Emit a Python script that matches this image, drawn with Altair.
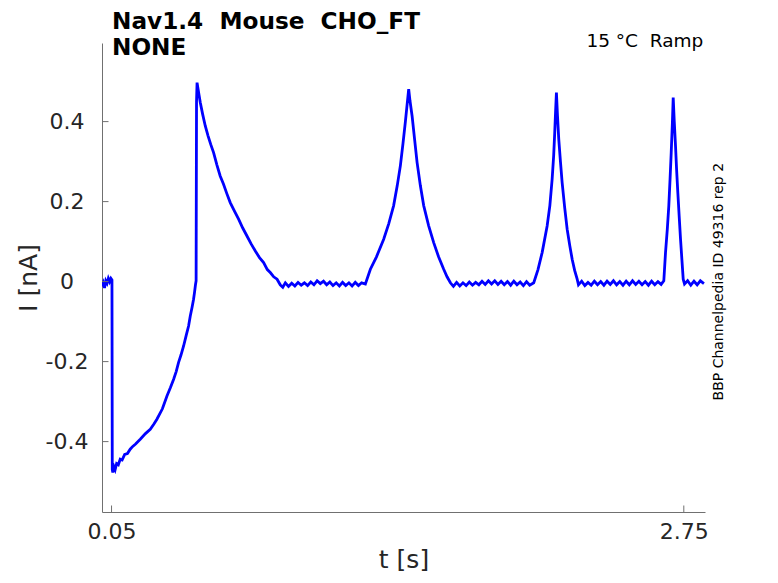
import altair as alt
import pandas as pd

# ---- data (t in s, I in nA) ----
rest0 = [(0.005, -0.012), (0.011, -0.003), (0.017, -0.016), (0.023, 0.002), (0.029, -0.004),
         (0.035, 0.008), (0.041, 0.0), (0.047, 0.008), (0.052, 0.004)]
step_recovery = [(0.0535, -0.47), (0.056, -0.477), (0.061, -0.462), (0.067, -0.470), (0.074, -0.455),
                 (0.082, -0.458), (0.091, -0.444), (0.100, -0.446), (0.112, -0.432), (0.125, -0.430),
                 (0.138, -0.419), (0.150, -0.412), (0.1635, -0.406), (0.1855, -0.394), (0.21, -0.380),
                 (0.2327, -0.369), (0.25, -0.356), (0.264, -0.344), (0.29, -0.318), (0.3115, -0.286),
                 (0.328, -0.265), (0.343, -0.244), (0.355, -0.225), (0.366, -0.2025), (0.378, -0.183),
                 (0.390, -0.161), (0.402, -0.135), (0.4135, -0.111), (0.4215, -0.086), (0.430, -0.064),
                 (0.437, -0.044), (0.442, -0.025), (0.446, -0.008), (0.449, 0.002)]
spike_decay = [(0.451, 0.45), (0.4535, 0.4975), (0.458, 0.482), (0.463, 0.466), (0.4687, 0.4475),
               (0.480, 0.418), (0.4923, 0.389), (0.505, 0.365), (0.518, 0.343), (0.5315, 0.3225),
               (0.547, 0.292), (0.5626, 0.264), (0.578, 0.244), (0.594, 0.220), (0.610, 0.1975),
               (0.630, 0.176), (0.6495, 0.156), (0.669, 0.134), (0.689, 0.114), (0.708, 0.095),
               (0.7284, 0.0765), (0.748, 0.060), (0.7675, 0.0475), (0.785, 0.030), (0.800, 0.022),
               (0.815, 0.012), (0.831, 0.006), (0.846, -0.008)]
flat1 = [(0.858, -0.014), (0.870, -0.003), (0.885, -0.012), (0.900, -0.004), (0.915, -0.011),
         (0.930, -0.002), (0.945, -0.009), (0.960, -0.003), (0.975, -0.010), (0.990, -0.001),
         (1.005, -0.008), (1.020, 0.002), (1.035, -0.005), (1.050, 0.001), (1.065, -0.008),
         (1.080, -0.001), (1.095, -0.010), (1.110, -0.003), (1.125, -0.011), (1.140, -0.002),
         (1.155, -0.010), (1.170, -0.003), (1.185, -0.011), (1.200, -0.002), (1.215, -0.010),
         (1.230, -0.003), (1.2476, -0.006)]
peak1 = [(1.2712, 0.031), (1.300, 0.062), (1.334, 0.106), (1.358, 0.145), (1.381, 0.19),
         (1.398, 0.24), (1.4128, 0.29), (1.425, 0.345), (1.4364, 0.40), (1.445, 0.445),
         (1.452, 0.481), (1.4581, 0.452), (1.4681, 0.414), (1.480, 0.355), (1.4917, 0.2975),
         (1.507, 0.240), (1.5228, 0.19), (1.546, 0.140), (1.570, 0.0975), (1.593, 0.062),
         (1.6172, 0.031), (1.633, 0.012), (1.6488, -0.003)]
flat2 = [(1.663, -0.012), (1.678, -0.002), (1.693, -0.011), (1.708, -0.003), (1.723, -0.010),
         (1.738, -0.001), (1.753, -0.009), (1.768, -0.002), (1.783, -0.008), (1.798, 0.001),
         (1.813, -0.007), (1.828, 0.002), (1.843, -0.006), (1.858, 0.002), (1.873, -0.007),
         (1.888, 0.001), (1.903, -0.008), (1.918, 0.000), (1.933, -0.009), (1.948, 0.001),
         (1.963, -0.008), (1.978, -0.001), (1.993, -0.010), (2.008, 0.000), (2.023, -0.009),
         (2.042, -0.003)]
peak2 = [(2.062, 0.030), (2.0816, 0.0725), (2.1052, 0.139), (2.118, 0.190), (2.1288, 0.256),
         (2.136, 0.315), (2.141, 0.3725), (2.145, 0.425), (2.149, 0.4725), (2.154, 0.415),
         (2.160, 0.356), (2.168, 0.300), (2.176, 0.2475), (2.188, 0.185), (2.1997, 0.131),
         (2.212, 0.090), (2.2233, 0.056), (2.235, 0.028), (2.2469, 0.006), (2.2531, -0.008)]
flat3 = [(2.268, 0.001), (2.283, -0.010), (2.298, -0.002), (2.313, -0.009), (2.328, 0.001),
         (2.343, -0.008), (2.358, 0.000), (2.373, -0.009), (2.388, 0.001), (2.403, -0.007),
         (2.418, 0.002), (2.433, -0.008), (2.448, 0.000), (2.463, -0.009), (2.478, 0.001),
         (2.493, -0.008), (2.508, 0.002), (2.523, -0.007), (2.538, 0.001), (2.553, -0.008),
         (2.568, 0.000), (2.583, -0.009), (2.598, 0.001), (2.613, -0.008), (2.628, 0.000),
         (2.643, -0.007), (2.6557, 0.002)]
peak3 = [(2.6637, 0.0725), (2.672, 0.130), (2.6793, 0.19), (2.685, 0.255), (2.6906, 0.3225),
         (2.696, 0.395), (2.700, 0.46), (2.705, 0.400), (2.7109, 0.339), (2.716, 0.280),
         (2.7218, 0.2225), (2.728, 0.165), (2.7345, 0.106), (2.741, 0.055), (2.7472, 0.006),
         (2.7534, -0.006)]
flat4 = [(2.768, 0.002), (2.783, -0.009), (2.798, 0.001), (2.813, -0.008), (2.828, 0.002),
         (2.845, -0.005)]

x_ticks = [0.05, 2.75]
y_ticks = [-0.4, -0.2, 0, 0.2, 0.4]
title_text = ["Nav1.4\u00a0 Mouse\u00a0 CHO_FT\nNONE"]
cond_text = ["15 °C\u00a0 Ramp"]
id_text = ["BBP Channelpedia ID 49316 rep 2"]

# ---- build ----
segments = [rest0, step_recovery, spike_decay, flat1, peak1, flat2, peak2, flat3, peak3, flat4]
rows = [p for seg in segments for p in seg]
df = pd.DataFrame(rows, columns=["t", "I"])

W, H = 603, 469
FONT = "DejaVu Sans"
AX = "#707070"
LBL = "#262626"
TICK = 6.5

xs = alt.Scale(domain=[0.005, 2.85], nice=False, zero=False)
ys = alt.Scale(domain=[-0.576, 0.5965], nice=False, zero=False)

y_label_expr = ("datum.value == 0 ? '0' : (datum.value < 0 ? '-' + format(-datum.value, '.1f') "
                ": format(datum.value, '.1f'))")

x_axis = alt.Axis(values=x_ticks, format=".2f", title="t [s]", ticks=False,
                  labelPadding=9.5, titleX=W / 2, titleY=55.5, titleBaseline="alphabetic")
y_axis = alt.Axis(values=y_ticks, labelExpr=y_label_expr, title="I [nA]", ticks=False,
                  labelAlign="center", labelPadding=35.5,
                  titleX=-73.5, titleY=H / 2, titleBaseline="middle")

line = alt.Chart(df).mark_line(color="#0000ff", strokeWidth=2.8, clip=True).encode(
    x=alt.X("t:Q", scale=xs, axis=x_axis),
    y=alt.Y("I:Q", scale=ys, axis=y_axis),
    order="t:Q",
)

xtick_layer = alt.Chart(pd.DataFrame({"t": x_ticks})).mark_rule(color=AX, strokeWidth=1).encode(
    x=alt.X("t:Q", scale=xs, axis=x_axis), y=alt.value(H), y2=alt.value(H - TICK))

ytick_layer = alt.Chart(pd.DataFrame({"I": y_ticks})).mark_rule(color=AX, strokeWidth=1).encode(
    y=alt.Y("I:Q", scale=ys, axis=y_axis), x=alt.value(0), x2=alt.value(TICK))

title_layer = alt.Chart(pd.DataFrame({"txt": title_text})).mark_text(
    align="left", baseline="alphabetic", font=FONT, fontSize=23.2, fontWeight="bold",
    color="black", lineBreak="\n", lineHeight=26,
).encode(text="txt:N", x=alt.value(10), y=alt.value(-13.6))

cond_layer = alt.Chart(pd.DataFrame({"txt": cond_text})).mark_text(
    align="right", baseline="alphabetic", font=FONT, fontSize=18.5, color="black",
).encode(text="txt:N", x=alt.value(601.3), y=alt.value(4))

id_layer = alt.Chart(pd.DataFrame({"txt": id_text})).mark_text(
    align="center", baseline="middle", font=FONT, fontSize=14, color="black", angle=270,
).encode(text="txt:N", x=alt.value(616.8), y=alt.value(238.7))

chart = alt.layer(line, xtick_layer, ytick_layer, title_layer, cond_layer, id_layer).properties(
    width=W, height=H,
    autosize=alt.AutoSizeParams(type="none"),
    padding={"left": 94, "top": 35, "right": 62, "bottom": 62},
).configure_view(stroke=None).configure_axis(
    grid=False, domainColor=AX, domainWidth=1,
    labelFont=FONT, labelFontSize=22, labelColor=LBL,
    titleFont=FONT, titleFontSize=25, titleFontWeight="normal", titleColor=LBL,
)

chart.save("out.html", embed_options={"renderer": "svg", "actions": False})
